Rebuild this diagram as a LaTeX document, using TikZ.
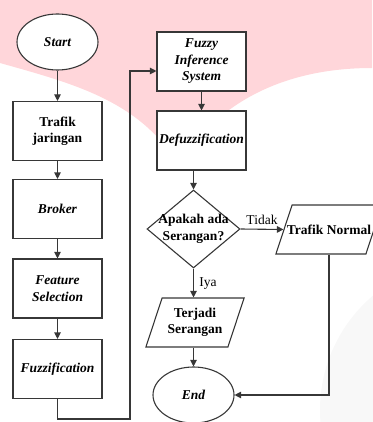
\documentclass[tikz,border=0pt]{standalone}
\usepackage{fontspec}
\setmainfont{Liberation Serif}
\usetikzlibrary{shapes.geometric,arrows.meta}
\definecolor{latarpink}{RGB}{255,214,218}
\definecolor{latarabu}{RGB}{248,248,248}
\definecolor{garis}{RGB}{55,55,55}

\begin{document}
\begin{tikzpicture}[x=1pt,y=-1pt,line width=1.1pt,
  every node/.style={font=\fontsize{13.5}{16.5}\selectfont},
  kotak/.style={draw=garis,fill=white,rectangle,minimum width=89pt,minimum height=59pt,inner sep=0pt,align=center,font=\fontsize{13.5}{16.5}\selectfont\bfseries\itshape},
  kotaktegak/.style={kotak,font=\fontsize{13.5}{16.5}\selectfont\bfseries},
  elips/.style={draw=garis,fill=white,ellipse,minimum width=81pt,minimum height=56pt,inner sep=0pt,font=\fontsize{13.5}{16.5}\selectfont\bfseries\itshape},
  keputusan/.style={draw=garis,fill=white,diamond,minimum width=93pt,minimum height=78pt,inner sep=0pt},
  jajargenjang/.style={draw=garis,fill=white,rectangle,minimum width=82pt,minimum height=49pt,inner sep=0pt,xslant=0.33,transform shape},
  tebal/.style={align=center,font=\fontsize{13.5}{16.5}\selectfont\bfseries},
  panah/.style={draw=garis,-{Triangle[length=6.5pt,width=6.5pt]}}]
\useasboundingbox (0,0) rectangle (372,422);

\fill[latarabu] (470,410) circle (150);
\fill[latarpink] (0,0) -- (0,63) .. controls (60,80) and (120,95) .. (160,140)
  -- (200,150) -- (229,110) .. controls (270,80) and (320,68) .. (372,68) -- (372,0) -- cycle;

\node[elips] (start) at (57.5,42) {Start};
\node[kotaktegak] (trafik) at (57.5,131) {Trafik\\jaringan};
\node[kotak] (broker) at (57.5,209) {Broker};
\node[kotak] (fitur) at (57.5,288.5) {Feature\\Selection};
\node[kotak] (fuzz) at (57.5,369) {Fuzzification};

\node[kotak] (fis) at (201.5,61.5) {Fuzzy\\Inference\\System};
\node[kotak] (defuzz) at (201.5,140.5) {Defuzzification};

\node[keputusan] (cek) at (193.5,229) {};
\node[tebal] (cektext) at (cek) {Apakah ada\\Serangan?};

\node[jajargenjang,minimum width=90pt] (normal) at (329,229.5) {};
\node[tebal] (normaltext) at (normal) {Trafik Normal};

\node[jajargenjang] (terjadi) at (195,322.5) {};
\node[tebal] (terjaditext) at (terjadi) {Terjadi\\Serangan};

\node[elips] (end) at (193.5,395) {End};

\coordinate (belok) at (130,419);

\draw[panah] (start) -- (trafik);
\draw[panah] (trafik) -- (broker);
\draw[panah] (broker) -- (fitur);
\draw[panah] (fitur) -- (fuzz);
\draw[panah] (fuzz.south) |- (belok) |- ([yshift=-9.5pt]fis.west);
\draw[panah] (fis) -- (defuzz);
\draw[panah] (defuzz.south -| cek.north) -- (cek.north);
\draw[panah] (cek.east) -- node[above,yshift=1pt] {Tidak} (normal.west);
\draw[panah] (cek.south) -- node[right,xshift=2pt,yshift=-1pt] {Iya} (terjadi.north -| cek.south);
\draw[panah] (terjadi.south -| end.north) -- (end.north);
\draw[panah] (normal.south -| normal.center) |- (end.east);
\end{tikzpicture}
\end{document}
